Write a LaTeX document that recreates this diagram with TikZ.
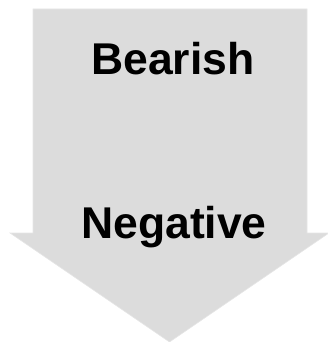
\documentclass[tikz,border=0pt]{standalone}
\usepackage{fontspec}
\setmainfont{Liberation Sans}
\usetikzlibrary{positioning}
\definecolor{grisflecha}{HTML}{DCDCDC}
\definecolor{bordeflecha}{HTML}{E6E6E6}

\begin{document}
\begin{tikzpicture}[
      x=1pt, y=-1pt,
      flecha/.style={fill=grisflecha, draw=bordeflecha, line width=0.6pt},
      rotulo/.style={font=\fontsize{44.5}{50}\selectfont\bfseries, anchor=base,
                     inner sep=0pt},
    ]
    \useasboundingbox (0,0) rectangle (328,342);

    % --- Flecha hacia abajo ---
    \coordinate (tl)  at (33,9);
    \coordinate (tr)  at (307,9);
    \coordinate (hr)  at (329,233);
    \coordinate (hl)  at (10,233);
    \coordinate (tip) at (169.5,342);
    \draw[flecha] (tl) -- (tr) -- (tr |- hr) -- (hr) -- (tip) -- (hl)
      -- (tl |- hl) -- cycle;

    % --- Rótulos ---
    \node[rotulo] (bear) at (173,75)  {Bearish};
    \node[rotulo] (neg)  at (174,238) {Negative};
  \end{tikzpicture}
\end{document}
